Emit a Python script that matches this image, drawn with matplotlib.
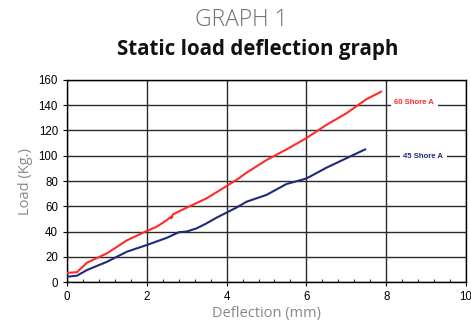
import matplotlib
matplotlib.use("Agg")
import matplotlib.pyplot as plt
from matplotlib.ticker import MultipleLocator

# Data
red_x = [0, 0.25, 0.5, 1.0, 1.5, 2.0, 2.25, 2.5, 2.6, 2.62, 2.65, 3.0, 3.5, 4.0, 4.3, 4.5, 5.0, 5.5, 6.0, 6.5, 7.0, 7.5, 7.87]
red_y = [7.2, 7.8, 15.3, 22.7, 33.0, 40.4, 43.8, 49.0, 51.5, 50.5, 53.5, 58.9, 66.3, 76.0, 82.0, 86.6, 96.6, 105.0, 114.0, 124.4, 133.6, 144.7, 150.7]
blue_x = [0, 0.25, 0.5, 1.0, 1.5, 2.0, 2.5, 2.8, 3.0, 3.25, 3.5, 3.75, 4.0, 4.25, 4.5, 5.0, 5.5, 6.0, 6.5, 7.0, 7.47]
blue_y = [4.2, 5.0, 9.5, 16.0, 24.0, 29.3, 35.0, 39.4, 40.0, 42.5, 46.5, 51.0, 55.0, 59.0, 63.6, 69.0, 77.6, 82.0, 90.5, 98.0, 105.0]
x_ticks = [0, 2, 4, 6, 8, 10]
y_ticks = [0, 20, 40, 60, 80, 100, 120, 140, 160]

fig = plt.figure(figsize=(4.71, 3.24), dpi=100)
ax = fig.add_axes([0.1423, 0.1296, 0.8471, 0.6235])

ax.plot(red_x, red_y, color="#ff2a2a", lw=1.5, zorder=3)
ax.plot(blue_x, blue_y, color="#1f2a7a", lw=1.5, zorder=3)

ax.set_xlim(0, 10)
ax.set_ylim(0, 160)
ax.set_xticks(x_ticks)
ax.set_yticks(y_ticks)
ax.xaxis.set_minor_locator(MultipleLocator(0.4))
ax.grid(True, which="major", color="#2a2a2a", lw=1.0, zorder=1)
ax.tick_params(axis="both", labelsize=8.3, colors="black", length=3, direction="out")
ax.tick_params(axis="x", which="minor", length=2.5, direction="in")
for s in ax.spines.values():
    s.set_color("black")
    s.set_linewidth(1.0)

ax.text(8.2, 142.5, "60 Shore A", color="#ff2a2a", fontsize=5.6, fontweight="bold",
        family="Liberation Sans", ha="left", va="center",
        bbox=dict(facecolor="white", edgecolor="none", pad=2.5), zorder=4)
ax.text(8.43, 99.5, "45 Shore A", color="#1f2a7a", fontsize=5.6, fontweight="bold",
        family="Liberation Sans", ha="left", va="center",
        bbox=dict(facecolor="white", edgecolor="none", pad=2.5), zorder=4)

for lbl in ax.get_xticklabels() + ax.get_yticklabels():
    lbl.set_family("Liberation Sans")

ax.set_xlabel("Deflection (mm)", color="#888888", fontsize=10.5, family="Open Sans", labelpad=2)
ax.set_ylabel("Load (Kg.)", color="#888888", fontsize=10.5, family="Open Sans", labelpad=4)

fig.text(0.512, 0.937, "GRAPH 1", color="#707070", fontsize=16.5, family="Open Sans",
         fontweight="light", ha="center", va="center")
fig.text(0.548, 0.848, "Static load deflection graph", color="#111111", fontsize=14.8,
         family="Open Sans", fontweight="bold", ha="center", va="center")

fig.savefig("out.png", dpi=100)
